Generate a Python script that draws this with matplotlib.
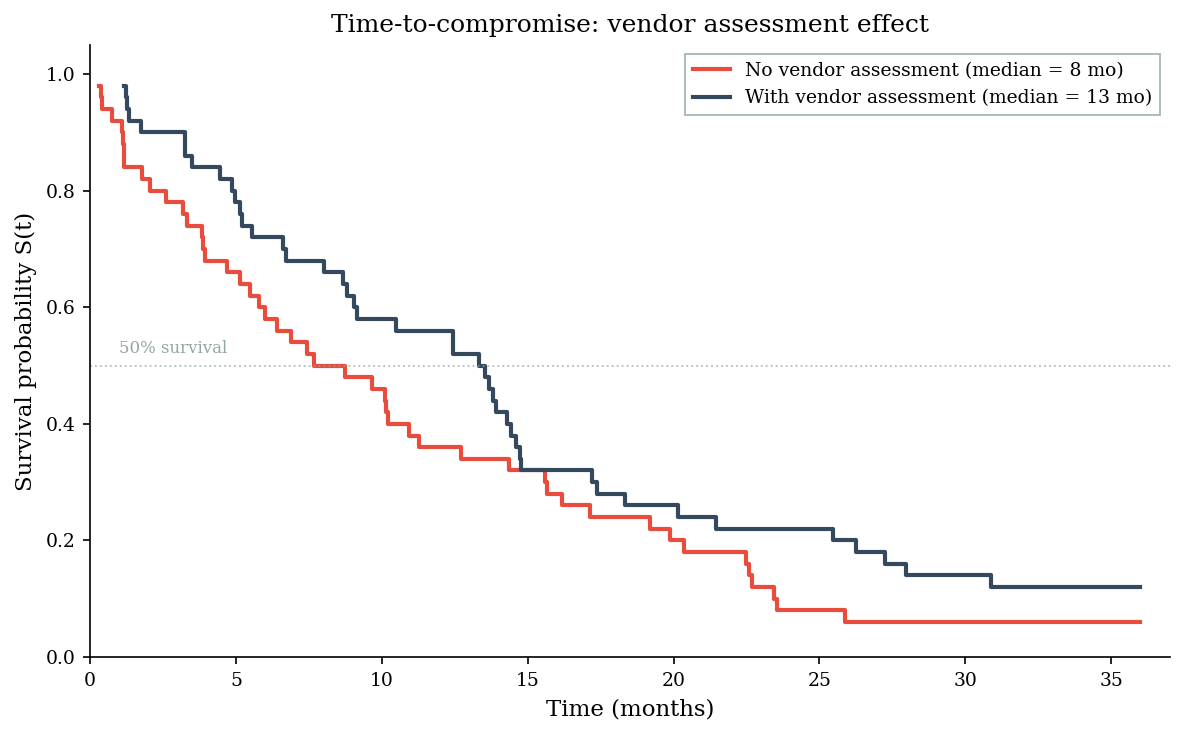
import matplotlib
matplotlib.use("Agg")
import matplotlib.pyplot as plt

# ---------------------------------------------------------------------------
# Data
# ---------------------------------------------------------------------------
NO_VA_TIMES = [0.31, 0.36, 0.42, 0.74, 1.10, 1.12, 1.15, 1.18, 1.77, 2.05,
               2.60, 3.20, 3.32, 3.84, 3.88, 3.93, 4.68, 5.14, 5.48, 5.80,
               5.99, 6.41, 6.87, 7.42, 7.66, 8.73, 9.68, 10.10, 10.13, 10.20,
               10.92, 11.28, 12.73, 14.35, 15.58, 15.66, 16.16, 17.12, 19.18, 19.86,
               20.34, 22.48, 22.58, 22.68, 23.44, 23.55, 25.86, 36.0]
NO_VA_SURV = [0.98, 0.96, 0.94, 0.92, 0.90, 0.88, 0.86, 0.84, 0.82, 0.80,
              0.78, 0.76, 0.74, 0.72, 0.70, 0.68, 0.66, 0.64, 0.62, 0.60,
              0.58, 0.56, 0.54, 0.52, 0.50, 0.48, 0.46, 0.44, 0.42, 0.40,
              0.38, 0.36, 0.34, 0.32, 0.30, 0.28, 0.26, 0.24, 0.22, 0.20,
              0.18, 0.16, 0.14, 0.12, 0.10, 0.08, 0.06, 0.06]

VA_TIMES = [1.18, 1.22, 1.28, 1.35, 1.74, 3.24, 3.27, 3.50, 4.47, 4.85,
            4.97, 5.15, 5.22, 5.55, 6.60, 6.71, 8.03, 8.68, 8.79, 9.04,
            9.16, 10.48, 12.44, 12.45, 13.33, 13.52, 13.69, 13.80, 13.93, 14.30,
            14.43, 14.61, 14.73, 14.78, 17.20, 17.37, 18.32, 20.15, 21.47, 25.48,
            26.26, 27.24, 27.98, 30.89, 36.0]
VA_SURV = [0.98, 0.96, 0.94, 0.92, 0.90, 0.88, 0.86, 0.84, 0.82, 0.80,
           0.78, 0.76, 0.74, 0.72, 0.70, 0.68, 0.66, 0.64, 0.62, 0.60,
           0.58, 0.56, 0.54, 0.52, 0.50, 0.48, 0.46, 0.44, 0.42, 0.40,
           0.38, 0.36, 0.34, 0.32, 0.30, 0.28, 0.26, 0.24, 0.22, 0.20,
           0.18, 0.16, 0.14, 0.12, 0.12]

NO_VA_MEDIAN = 8
VA_MEDIAN = 13

RED = "#e74c3c"
NAVY = "#34495e"
GREY = "#95a5a6"

plt.rcParams["font.family"] = "DejaVu Serif"

fig, ax = plt.subplots(figsize=(7.9, 4.9), dpi=150)
fig.subplots_adjust(left=0.076, right=0.987, top=0.939, bottom=0.106)

ax.step(NO_VA_TIMES, NO_VA_SURV, where="post", color=RED, lw=2.0,
        label=f"No vendor assessment (median = {NO_VA_MEDIAN} mo)")
ax.step(VA_TIMES, VA_SURV, where="post", color=NAVY, lw=2.0,
        label=f"With vendor assessment (median = {VA_MEDIAN} mo)")

ax.axhline(0.5, color=GREY, lw=0.9, ls=":", alpha=0.7)
ax.text(1.0, 0.515, "50% survival", color=GREY, fontsize=8, va="bottom")

ax.set_xlim(0, 37)
ax.set_ylim(0, 1.05)
ax.set_title("Time-to-compromise: vendor assessment effect", fontsize=12)
ax.set_xlabel("Time (months)", fontsize=11)
ax.set_ylabel("Survival probability S(t)", fontsize=11)
ax.tick_params(labelsize=9)
ax.spines["top"].set_visible(False)
ax.spines["right"].set_visible(False)

leg = ax.legend(loc="upper right", fontsize=9, fancybox=False, edgecolor=GREY)
leg.get_frame().set_linewidth(0.9)

plt.savefig("out.png", dpi=150)
